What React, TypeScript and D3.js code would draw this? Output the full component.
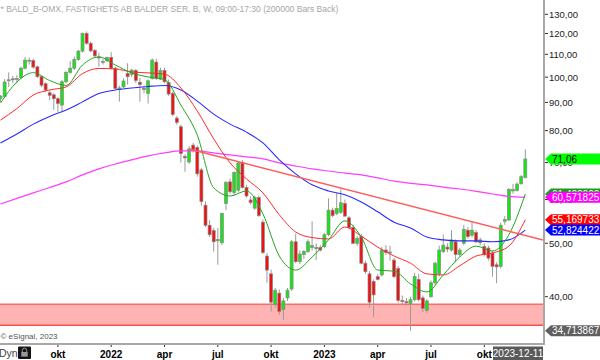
import React from "react";
import * as d3 from "d3";

// ---------- data ----------
const FIRST_WEEK = "2021-06-28";
const LAST_WEEK = "2023-12-11";

const OPEN = [
  91.5, 92.3, 98.5, 99.3, 99.0, 99.9, 103.8, 107.0, 107.2, 104.4,
  100.2, 97.3, 93.7, 92.9, 91.4, 89.0, 98.1, 102.0, 103.8, 107.7,
  111.5, 120.0, 115.2, 111.8, 108.8, 106.5, 107.1, 108.6, 103.8, 95.0,
  96.0, 101.5, 101.1, 102.8, 97.9, 95.4, 93.4, 99.5, 106.5, 99.2,
  102.8, 97.8, 93.4, 84.3, 81.3, 71.8, 70.2, 75.3, 74.6, 67.9,
  58.6, 53.9, 52.7, 50.5, 50.1, 59.0, 64.6, 61.8, 62.4, 70.0,
  63.1, 59.9, 57.9, 60.5, 54.6, 47.4, 44.0, 38.7, 40.6, 37.9,
  39.8, 41.3, 50.3, 46.3, 47.7, 48.3, 49.1, 49.1, 49.1, 49.3,
  51.8, 57.4, 56.6, 56.9, 59.0, 55.6, 53.4, 50.0, 51.4, 46.0,
  44.0, 42.6, 43.5, 43.8, 48.6, 48.0, 46.6, 45.0, 39.4, 39.2,
  38.9, 39.5, 43.0, 39.8, 37.8, 40.0, 42.4, 44.0, 48.3, 49.2,
  48.6, 50.3, 47.7, 50.0, 52.8, 51.7, 52.3, 50.1, 49.3, 49.0,
  48.0, 45.7, 45.4, 54.8, 55.1, 62.2, 62.3, 64.1, 65.8,
];
const HIGH = [
  92.8, 99.2, 102.0, 100.5, 100.8, 104.5, 108.8, 108.6, 108.0, 105.0,
  100.5, 97.8, 94.6, 93.5, 92.0, 98.9, 102.5, 107.0, 109.0, 112.0,
  120.4, 121.0, 116.0, 112.5, 110.8, 107.8, 109.0, 111.0, 104.5, 96.5,
  99.5, 106.0, 103.5, 103.5, 99.7, 96.5, 99.0, 108.2, 108.0, 104.0,
  104.0, 99.0, 94.0, 85.0, 82.0, 72.5, 75.0, 76.0, 75.2, 68.5,
  59.5, 55.0, 53.3, 53.3, 56.8, 64.8, 65.5, 67.5, 70.2, 70.8,
  63.8, 60.8, 61.0, 61.0, 55.2, 48.0, 44.8, 41.5, 41.2, 39.8,
  41.5, 50.7, 52.0, 48.5, 48.6, 50.8, 54.8, 50.0, 49.6, 52.2,
  60.3, 58.0, 61.7, 62.6, 60.0, 56.0, 54.0, 51.5, 52.0, 46.5,
  44.5, 43.0, 44.0, 49.2, 49.6, 49.5, 47.0, 45.5, 40.2, 39.8,
  40.0, 44.2, 44.0, 40.2, 39.6, 42.8, 46.3, 49.5, 51.8, 50.0,
  52.8, 50.8, 49.0, 54.0, 53.5, 54.8, 52.8, 51.2, 50.0, 49.5,
  48.5, 46.2, 54.5, 56.0, 63.0, 64.0, 64.5, 66.5, 74.0,
];
const LOW = [
  90.2, 91.8, 96.0, 97.5, 97.5, 99.3, 103.3, 105.4, 103.5, 99.7,
  96.0, 94.0, 90.9, 87.2, 86.5, 86.8, 97.5, 101.5, 103.0, 107.0,
  110.8, 114.5, 111.0, 108.5, 104.5, 105.4, 106.5, 103.3, 95.0, 90.3,
  95.6, 97.0, 100.0, 97.5, 90.3, 93.5, 89.6, 99.0, 98.8, 98.8,
  97.5, 92.5, 85.0, 82.0, 70.0, 67.4, 69.6, 73.0, 66.0, 58.5,
  53.5, 51.3, 48.3, 45.7, 49.6, 57.4, 61.5, 61.0, 61.8, 62.8,
  60.5, 58.8, 57.5, 55.8, 47.8, 42.4, 37.6, 38.2, 37.1, 36.3,
  39.3, 41.0, 46.0, 45.8, 46.8, 48.0, 48.5, 46.6, 48.3, 49.0,
  51.5, 55.8, 56.2, 56.5, 55.8, 53.0, 49.8, 49.5, 45.8, 44.0,
  38.2, 36.7, 42.8, 43.5, 47.6, 46.5, 43.2, 39.0, 38.6, 38.5,
  34.713867, 39.2, 39.2, 37.5, 37.4, 39.8, 42.0, 43.5, 48.0, 48.2,
  48.3, 46.2, 47.3, 49.6, 51.0, 51.2, 50.0, 49.6, 47.3, 46.5,
  43.5, 42.3, 45.0, 54.0, 54.8, 61.5, 62.0, 63.8, 65.5,
];
const CLOSE = [
  92.4, 98.0, 98.9, 99.0, 99.4, 103.8, 107.4, 107.3, 104.3, 100.2,
  96.7, 94.8, 92.7, 91.4, 89.6, 98.1, 102.0, 103.8, 107.7, 111.5,
  120.0, 115.2, 111.6, 109.3, 108.5, 106.8, 108.6, 103.8, 95.4, 95.6,
  98.4, 100.2, 103.0, 98.6, 97.0, 95.0, 98.5, 107.4, 99.5, 102.8,
  98.1, 93.2, 85.6, 82.8, 72.7, 71.4, 74.1, 73.8, 66.8, 59.5,
  53.9, 51.8, 50.3, 50.8, 56.6, 64.4, 62.0, 67.2, 69.9, 63.1,
  60.9, 59.3, 60.5, 56.1, 48.1, 44.7, 39.1, 41.1, 37.6, 39.3,
  41.1, 50.3, 46.3, 47.8, 48.3, 50.3, 49.5, 48.9, 48.6, 51.8,
  57.4, 56.1, 57.8, 59.2, 56.0, 53.4, 50.0, 51.0, 46.0, 44.4,
  39.1, 40.3, 43.0, 48.6, 48.1, 48.2, 43.5, 39.4, 39.2, 39.0,
  39.5, 43.5, 39.5, 38.1, 39.3, 42.4, 46.0, 48.6, 49.6, 48.8,
  50.7, 47.7, 48.6, 53.0, 51.4, 52.8, 50.3, 50.7, 47.7, 47.0,
  45.4, 45.3, 53.9, 55.2, 62.6, 62.6, 64.0, 66.0, 71.06,
];

// moving averages, read every 4th week
const MA_STEP = 4;
const MA_GREEN = [
  89.8, 98.0, 101.9, 98.6, 96.6, 105.2, 108.8, 105.2, 101.8, 100.1, 99.0,
  89.0, 78.5, 63.0, 60.9, 62.2, 56.5, 47.4, 44.7, 47.2, 50.7, 54.9, 51.3,
  44.7, 44.5, 42.2, 40.8, 43.8, 47.2, 49.4, 48.4, 51.8, 61.4,
];
const MA_RED = [
  83.6, 87.7, 92.8, 94.8, 96.0, 101.5, 103.7, 103.5, 102.2, 101.8, 101.3,
  95.6, 86.8, 77.3, 69.9, 65.4, 61.7, 56.3, 52.4, 51.2, 50.9, 53.5, 51.5,
  49.2, 47.4, 46.0, 44.0, 43.8, 45.5, 47.4, 48.0, 49.4, 55.169733,
];
const MA_BLUE = [
  76.0, 78.9, 82.2, 84.9, 87.2, 90.2, 93.4, 94.8, 95.6, 96.2, 96.6,
  94.8, 90.5, 85.7, 82.2, 79.5, 76.0, 70.8, 66.8, 63.8, 62.2, 61.2, 59.4,
  57.0, 54.6, 53.3, 51.3, 50.7, 50.5, 50.5, 50.3, 50.7, 52.824422,
];
const MA_MAGENTA = [
  58.9, 60.3, 61.7, 63.1, 64.6, 66.5, 68.2, 69.6, 70.8, 72.0, 72.9,
  73.5, 73.5, 72.9, 72.3, 71.7, 71.1, 69.9, 69.0, 68.2, 67.6, 67.0, 66.5,
  65.7, 64.8, 64.2, 63.8, 63.2, 62.7, 62.1, 61.4, 60.8, 60.571825,
];

const TREND_DATES = ["2022-05-16", "2024-01-10"];
const TREND_VALUES = [74.1, 50.7];

const ZONE = [35.5, 38.75];

const PRICE_TICKS = [130, 120, 110, 100, 90, 80, 70, 60, 50, 40];
const TIME_TICK_DATES = [
  "2021-10-04", "2022-01-03", "2022-04-04", "2022-07-04", "2022-10-03",
  "2023-01-02", "2023-04-03", "2023-07-03", "2023-10-02",
];
const TIME_TICK_LABELS = ["okt", "2022", "apr", "jul", "okt", "2023", "apr", "jul", "okt"];

const TITLE = "* BALD_B-OMX, FASTIGHETS AB BALDER SER. B, W, 09:00-17:30 (200000 Bars Back)";

// ---------- chart ----------
const W = 600;
const H = 360;
const PLOT_R = 543;
const PLOT_B = 344;
const FONT = "'Liberation Sans', Arial, Helvetica, sans-serif";

const parse = d3.timeParse("%Y-%m-%d");
const fmt = (v: number, d: number) => v.toFixed(d).replace(".", ",");

export default function App() {
  const first = parse(FIRST_WEEK)!;
  const last = parse(LAST_WEEK)!;
  const dates = d3.timeMonday.range(first, d3.timeDay.offset(last, 1));

  const x = d3.scaleTime().domain([first, last]).range([0.5, 525.3]);
  const y = d3.scaleLog().domain([40, 130]).range([296.7, 14.3]);

  const maLine = (vals: number[]) =>
    d3
      .line<number>()
      .x((_, k) => x(dates[Math.min(k * MA_STEP, dates.length - 1)]))
      .y((v) => y(v))
      .curve(d3.curveMonotoneX)(vals) || "";

  const trendPts = TREND_DATES.map((d, k) => [x(parse(d)!), y(TREND_VALUES[k])] as [number, number]);
  const trendPath = d3.line()(trendPts) || "";

  const bodyW = 3;

  const tag = (v: number, fill: string, text: string, color: string, key: string) => {
    const yc = y(v);
    const h = 5.5;
    return (
      <g key={key}>
        <path
          d={`M545,${yc} L551,${yc - h} L600,${yc - h} L600,${yc + h} L551,${yc + h} Z`}
          fill={fill}
        />
        <text x={552} y={yc} dy="0.36em" fontSize={10} fill={color} fontFamily={FONT}>
          {text}
        </text>
      </g>
    );
  };

  return (
    <svg
      width={W}
      height={H}
      style={{ position: "fixed", left: 0, top: 0, background: "#fff" }}
      fontFamily={FONT}
    >
      <defs>
        <clipPath id="plot">
          <rect x={0} y={0} width={PLOT_R} height={PLOT_B} />
        </clipPath>
      </defs>
      <rect x={0} y={0} width={W} height={H} fill="#fff" />

      {/* title */}
      <text x={0.5} y={11.5} fontSize={8.5} fill="#a6a6a6">
        {TITLE}
      </text>

      <g clipPath="url(#plot)">
        {/* support zone */}
        <rect
          x={0}
          y={y(ZONE[1])}
          width={PLOT_R}
          height={y(ZONE[0]) - y(ZONE[1])}
          fill="#ffb3b3"
        />
        <line x1={0} x2={PLOT_R} y1={y(ZONE[1])} y2={y(ZONE[1])} stroke="#ff6b6b" strokeWidth={1.5} />
        <line x1={0} x2={PLOT_R} y1={y(ZONE[0])} y2={y(ZONE[0])} stroke="#ff4d4d" strokeWidth={1.5} />

        {/* candles */}
        {dates.map((d, i) => {
          const cx = x(d);
          const o = OPEN[i];
          const c = CLOSE[i];
          const up = c >= o;
          const top = y(Math.max(o, c));
          const bot = y(Math.min(o, c));
          return (
            <g key={i}>
              <line x1={cx} x2={cx} y1={y(HIGH[i])} y2={y(LOW[i])} stroke="#9a9a9a" strokeWidth={1} />
              <rect
                x={cx - bodyW / 2}
                y={top}
                width={bodyW}
                height={Math.max(1, bot - top)}
                fill={up ? "#14e614" : "#ee1111"}
                stroke="#8a8a8a"
                strokeWidth={0.7}
              />
            </g>
          );
        })}

        {/* moving averages */}
        <path d={maLine(MA_MAGENTA)} fill="none" stroke="#ff3cff" strokeWidth={1.2} />
        <path d={maLine(MA_BLUE)} fill="none" stroke="#2a2aff" strokeWidth={1.1} />
        <path d={maLine(MA_RED)} fill="none" stroke="#ff2a2a" strokeWidth={1} />
        <path d={maLine(MA_GREEN)} fill="none" stroke="#22a622" strokeWidth={1} />

        {/* trendline */}
        <path d={trendPath} fill="none" stroke="#ff5c5c" strokeWidth={1.5} />
      </g>

      {/* right axis */}
      <line x1={544} x2={544} y1={0} y2={PLOT_B + 1} stroke="#a8a8a8" strokeWidth={2} />
      {PRICE_TICKS.map((t) => (
        <g key={t}>
          <line x1={545} x2={548} y1={y(t)} y2={y(t)} stroke="#333" strokeWidth={1} />
          <text x={549} y={y(t)} dy="0.36em" fontSize={9.5} fill="#222">
            {fmt(t, 2)}
          </text>
        </g>
      ))}

      {/* value tags */}
      {tag(MA_GREEN[MA_GREEN.length - 1], "#15a015", fmt(MA_GREEN[MA_GREEN.length - 1], 6), "#fff", "g")}
      {tag(MA_MAGENTA[MA_MAGENTA.length - 1], "#ff00ff", fmt(MA_MAGENTA[MA_MAGENTA.length - 1], 6), "#fff", "m")}
      {tag(MA_RED[MA_RED.length - 1], "#ff0000", fmt(MA_RED[MA_RED.length - 1], 6), "#fff", "r")}
      {tag(MA_BLUE[MA_BLUE.length - 1], "#0000ff", fmt(MA_BLUE[MA_BLUE.length - 1], 6), "#fff", "b")}
      {tag(d3.min(LOW)!, "#606060", fmt(d3.min(LOW)!, 6), "#fff", "low")}
      {tag(CLOSE[CLOSE.length - 1], "#00ff00", fmt(CLOSE[CLOSE.length - 1], 2), "#000", "close")}

      {/* bottom axis */}
      <text x={0.5} y={339} fontSize={8} fill="#555">
        © eSignal, 2023
      </text>
      <line x1={0} x2={545} y1={PLOT_B} y2={PLOT_B} stroke="#a8a8a8" strokeWidth={2} />
      {TIME_TICK_DATES.map((d, k) => {
        const tx = x(parse(d)!);
        return (
          <g key={d}>
            <line x1={tx} x2={tx} y1={PLOT_B + 1} y2={PLOT_B + 3} stroke="#333" strokeWidth={1} />
            <text x={tx} y={358} fontSize={10} fontWeight="bold" fill="#000" textAnchor="middle">
              {TIME_TICK_LABELS[k]}
            </text>
          </g>
        );
      })}

      {/* last date tag */}
      <rect x={493} y={346.5} width={50} height={13.5} fill="#5a5a5a" />
      <text x={518} y={357} fontSize={10} fill="#fff" textAnchor="middle">
        {LAST_WEEK}
      </text>

      {/* Dyn + lock */}
      <text x={-1} y={357} fontSize={10.5} fill="#444">
        Dyn
      </text>
      <rect x={18} y={346.5} width={13} height={12.5} rx={1} fill="#151515" />
      <path d="M22.3,352 v-1.6 a2.2,2.2 0 0 1 4.4,0 v1.6" fill="none" stroke="#999" strokeWidth={1} />
      <rect x={21.3} y={352} width={6.4} height={4.6} fill="#999" />
    </svg>
  );
}
